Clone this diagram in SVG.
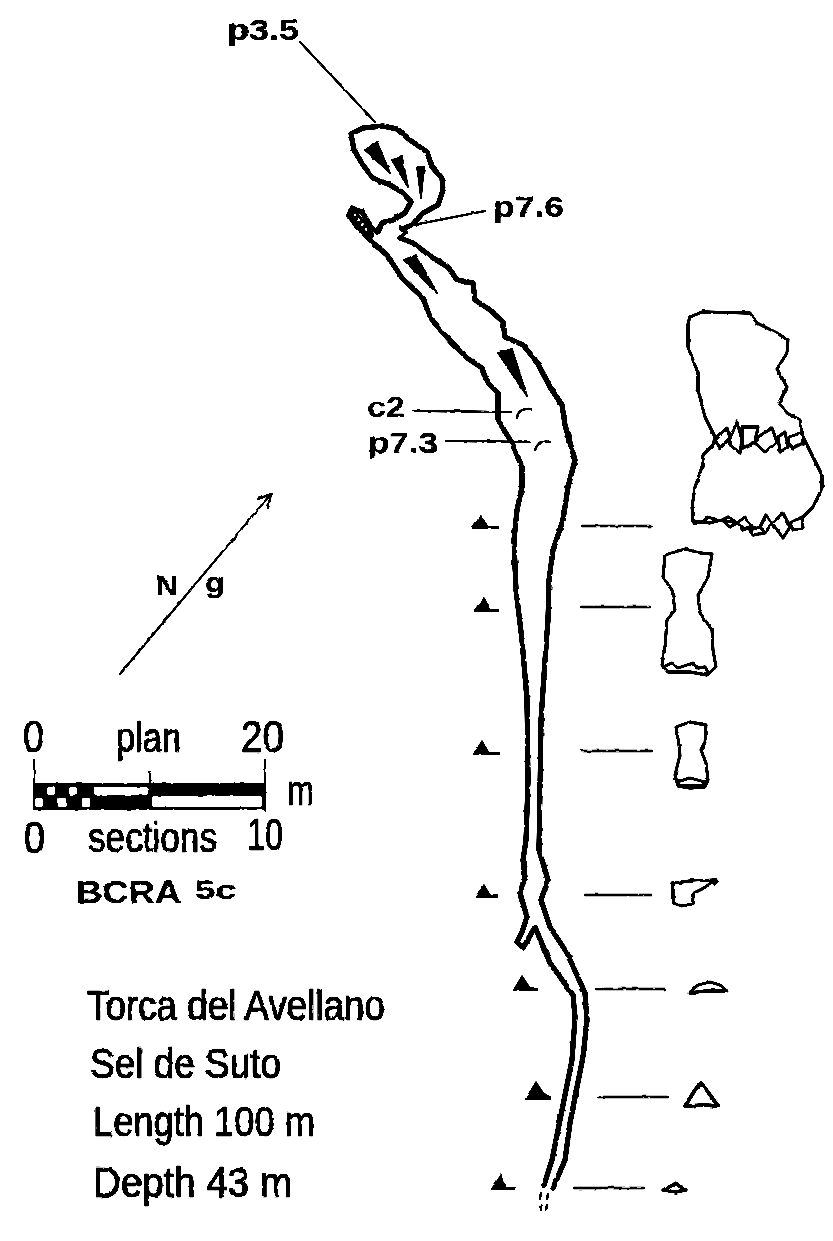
<svg xmlns="http://www.w3.org/2000/svg" width="833" height="1241" viewBox="0 0 833 1241">
<style>
.w{fill:none;stroke:#000;stroke-linejoin:round;stroke-linecap:round}
.f{fill:#000;stroke:#000;stroke-width:1.5;stroke-linejoin:round}
.cave{stroke-width:5}
.sec{stroke-width:2.8}
.lead{stroke-width:2}
.tick{stroke-width:2.6}
.b{font-family:"Liberation Sans",Arial,sans-serif;font-weight:700;fill:#000}
.h{font-family:"Liberation Sans",Arial,sans-serif;fill:#000;stroke:#000;stroke-width:.7}
</style>
<defs>
<filter id="ink" filterUnits="userSpaceOnUse" x="0" y="0" width="833" height="1241" color-interpolation-filters="sRGB">
<feTurbulence type="fractalNoise" baseFrequency=".13" numOctaves="2" seed="4" result="n"/>
<feDisplacementMap in="SourceGraphic" in2="n" scale="2.6" xChannelSelector="R" yChannelSelector="G" result="d"/>
<feGaussianBlur in="d" stdDeviation=".7"/>
<feComponentTransfer>
<feFuncR type="linear" slope="5" intercept="-3"/>
<feFuncG type="linear" slope="5" intercept="-3"/>
<feFuncB type="linear" slope="5" intercept="-3"/>
</feComponentTransfer>
</filter>
</defs>
<rect width="833" height="1241" fill="#fff"/>
<g filter="url(#ink)">
<rect x="-30" y="-30" width="893" height="1301" fill="#fff"/>
<g id="connectors">
<path class="w lead" d="M300 42L375 122"/>
<path class="w lead" d="M408 226L485 211"/>
<path class="w lead" d="M413 411L511 412"/>
<path class="w lead" d="M446 441L530 442"/>
<path class="w tick" d="M582 526H652M582 607H650M581 751H652M585 895H652M596 989H665M598 1097H668M574 1188H644"/>
<path class="w lead" d="M120 674L270 495"/>
<path class="w lead" d="M258 499L271 494L268 508"/>
</g>
<g id="passage">
<path class="w cave" d="M351 134L363 128L383 126L397 129L410 140L427 152L432 167L442 178L443 190L438 205L423 213L412 225L402 229"/>
<path class="w cave" d="M351 134L354 150L363 165L373 178L390 185L402 192L411 202L405 213L393 220L382 223L377 232L370 225L362 212L352 208L349 215L358 228L373 243L387 255L402 278L423 298L430 317L443 333L467 358L482 368L487 382L498 393L498 420L512 443L522 467L522 487L517 510L514 540L516 590L522 640L527 700L528 780L526 840L523 860L525 877L520 893L527 917L522 932L517 942L523 948L535 927L550 963L573 995L575 1017L572 1060L560 1120L552 1160L544 1185"/>
<path class="w cave" d="M400 238L413 243L433 258L448 267L457 280L473 283L475 300L490 310L503 322L505 337L523 345L537 362L550 387L562 405L565 425L575 460L568 487L563 520L553 550L549 580L548 620L545 660L541 720L540 790L539 850L542 860L548 880L541 900L550 927L567 953L585 993L587 1020L583 1057L577 1087L570 1123L565 1160L553 1188"/>
<path class="w" stroke-width="3.5" d="M400 227L406 232L400 238"/>
<path class="w" stroke-width="2.2" d="M541 1193L540 1199M541 1205L540 1210M548 1194L547 1199M547 1205L546 1210"/>
<path class="f" d="M365 150L377 142L390 173Z"/>
<path class="f" d="M392 160L402 157L408 187Z"/>
<path class="f" d="M417 167L424 167L421 198Z"/>
<path class="f" d="M404 260L416 255L437 293Z"/>
<path class="f" d="M498 353L512 349L527 396Z"/>
<path class="w" stroke-width="2.2" d="M517 418Q518 408 531 409"/>
<path class="w" stroke-width="2.2" d="M535 450Q538 440 550 442"/>
<path class="w" stroke-width="8" d="M353 213L370 235"/>
<path fill="none" stroke="#fff" stroke-width="2.4" stroke-dasharray="3 3" d="M354 214L368 232"/>
</g>
<g id="section-1">
<path class="w sec" d="M690 317L702 312L750 313L757 323L767 328L777 333L788 340L787 353L777 369L787 387L779 403L787 413L800 420L803 437L822 475L822 488L813 507L803 517"/>
<path class="w sec" d="M703 522L693 522L692 507L695 487L702 467L703 455L713 445L715 437L705 417L698 390L698 373L688 347L688 323L690 317"/>
<path class="w sec" d="M715 440L727 428L730 438L720 448ZM730 438L737 422L742 440L740 453L730 445ZM742 427L758 427L755 442L743 448ZM758 437L772 428L777 442L765 452L755 443ZM778 437L785 432L788 447L780 452ZM788 437L802 433L803 443L793 448L788 443Z"/>
<path class="w sec" d="M703 522L708 517L717 520L710 523ZM710 523L722 520L737 523M722 520L728 517L737 523L730 527ZM737 523L745 517L752 527L743 530ZM750 530L760 527L765 533L753 535ZM760 527L766 515L772 523L765 533ZM772 523L783 513L790 527L783 538ZM790 523L802 517L803 528L793 530Z"/>
</g>
<g id="section-2">
<path class="w sec" d="M665 555L685 549L700 553L712 554L708 577L698 595L700 613L712 630L713 650L716 667L707 675L690 672L668 672L662 665L665 647L667 620L675 610L672 590L663 577Z"/>
<path class="w sec" d="M663 667L672 663L678 668L693 663L698 668L705 667L708 672"/>
</g>
<g id="section-3">
<path class="w sec" d="M676 727L690 722L706 725L705 742L701 750L706 763L708 780L705 787L690 788L678 786L675 775L680 755L679 745Z"/>
<path class="w sec" d="M677 782L690 778L705 782L702 786L680 786Z"/>
</g>
<g id="section-4">
<path class="w sec" d="M673 883L690 881L716 880L702 889L694 893L692 904L682 906L673 903Z"/>
<path d="M712 878L719 881L714 886Z"/>
</g>
<g id="section-5">
<path class="w sec" d="M689 993L698 985L710 982L720 985L727 991L705 991Z"/>
</g>
<g id="section-6">
<path class="w" stroke-width="3.6" d="M685 1106L695 1090L701 1083L708 1092L718 1106L705 1105Z"/>
</g>
<g id="section-7">
<path class="w" stroke-width="3" d="M663 1190L676 1183L686 1190L676 1192Z"/>
<path d="M663 1190L676 1183L686 1190L676 1186Z"/>
</g>
<g id="ticks">
<path d="M472 527L481 515L488 526L499 526V529H472Z"/>
<path d="M474 610L484 597L491 609L499 609V612H474Z"/>
<path d="M473 754L482 740L489 752L500 752V755H473Z"/>
<path d="M475 897L484 884L490 894L498 894V898H475Z"/>
<path d="M513 990L522 975L530 987L539 987V991H513Z"/>
<path d="M525 1099L536 1081L546 1096L551 1096V1100H525Z"/>
<path d="M491 1189L501 1174L505 1187L515 1187V1190H491Z"/>
</g>
<g id="labels">
<text class="b" x="227" y="40" font-size="29" textLength="72" lengthAdjust="spacingAndGlyphs">p3.5</text>
<text class="b" x="493" y="217" font-size="29" textLength="71" lengthAdjust="spacingAndGlyphs">p7.6</text>
<text class="b" x="367" y="417" font-size="30" textLength="38" lengthAdjust="spacingAndGlyphs">c2</text>
<text class="b" x="368" y="453" font-size="29" textLength="70" lengthAdjust="spacingAndGlyphs">p7.3</text>
<text class="b" x="156" y="595" font-size="28" textLength="22" lengthAdjust="spacingAndGlyphs">N</text>
<text class="b" x="205" y="592" font-size="28" textLength="20" lengthAdjust="spacingAndGlyphs">g</text>
</g>
<g id="scale">
<path class="w" stroke-width="2.2" d="M34 760V783M150 772V783M265 760V810"/>
<rect x="33" y="783" width="233" height="27" fill="#000"/>
<rect x="94" y="787" width="54" height="8" rx="1.5" fill="#fff"/>
<rect x="152" y="796" width="110" height="11" rx="1.5" fill="#fff"/>
<rect x="47" y="787" width="8" height="8" rx="2" fill="#fff"/>
<rect x="69" y="787" width="8" height="8" rx="2" fill="#fff"/>
<rect x="35" y="798" width="8" height="9" rx="2" fill="#fff"/>
<rect x="58" y="798" width="8" height="9" rx="1" fill="#fff"/>
<rect x="82" y="798" width="8" height="9" rx="1" fill="#fff"/>
<text class="h" x="23" y="752" font-size="44" textLength="21" lengthAdjust="spacingAndGlyphs">0</text>
<text class="h" x="116" y="752" font-size="42" textLength="65" lengthAdjust="spacingAndGlyphs">plan</text>
<text class="h" x="241" y="752" font-size="44" textLength="43" lengthAdjust="spacingAndGlyphs">20</text>
<text class="h" x="287" y="805" font-size="42" textLength="27" lengthAdjust="spacingAndGlyphs">m</text>
<text class="h" x="24" y="853" font-size="44" textLength="21" lengthAdjust="spacingAndGlyphs">0</text>
<text class="h" x="88" y="852" font-size="42" textLength="129" lengthAdjust="spacingAndGlyphs">sections</text>
<text class="h" x="247" y="850" font-size="45" textLength="36" lengthAdjust="spacingAndGlyphs">10</text>
<text class="b" x="76" y="903" font-size="31" textLength="105" lengthAdjust="spacingAndGlyphs">BCRA</text>
<text class="b" x="195" y="899" font-size="25" textLength="41" lengthAdjust="spacingAndGlyphs">5c</text>
</g>
<g id="title">
<text class="h" x="87" y="1020" font-size="42" textLength="298" lengthAdjust="spacingAndGlyphs">Torca del Avellano</text>
<text class="h" x="90" y="1078" font-size="42" textLength="191" lengthAdjust="spacingAndGlyphs">Sel de Suto</text>
<text class="h" x="93" y="1136" font-size="42" textLength="222" lengthAdjust="spacingAndGlyphs">Length 100 m</text>
<text class="h" x="93" y="1197" font-size="42" textLength="199" lengthAdjust="spacingAndGlyphs">Depth 43 m</text>
</g>
</g>
</svg>
